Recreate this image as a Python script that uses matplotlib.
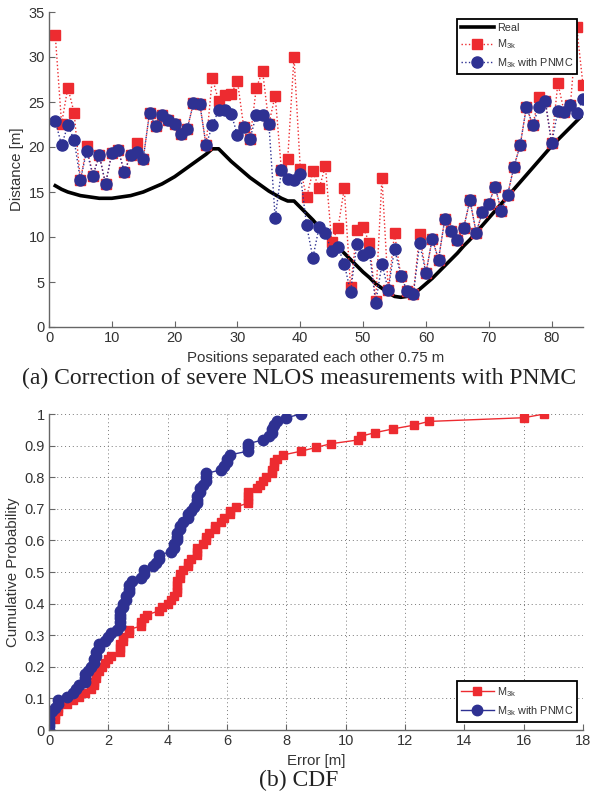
import numpy as np
import matplotlib
matplotlib.use("Agg")
import matplotlib.pyplot as plt

plt.rcParams['font.family'] = ['Liberation Sans', 'DejaVu Sans']
plt.rcParams['mathtext.fontset'] = 'custom'
plt.rcParams['mathtext.rm'] = 'Liberation Sans'
plt.rcParams['mathtext.it'] = 'Liberation Sans'

positions = np.arange(1, 86)

real = [15.7, 15.3, 15.0, 14.8, 14.6, 14.5, 14.4, 14.3, 14.3, 14.3,
        14.4, 14.5, 14.6, 14.8, 15.0, 15.3, 15.6, 15.9, 16.3, 16.7,
        17.2, 17.7, 18.2, 18.7, 19.2, 19.8, 19.8, 19.1, 18.4, 17.8,
        17.2, 16.6, 16.1, 15.6, 15.1, 14.7, 14.3, 14.0, 14.0, 13.3,
        12.6, 11.9, 11.1, 10.3, 9.6, 8.9, 8.2, 7.5, 6.8, 6.1,
        5.5, 4.8, 4.3, 3.8, 3.4, 3.3, 3.4, 3.7, 4.2, 4.8,
        5.4, 6.1, 6.8, 7.5, 8.2, 9.0, 9.7, 10.5, 11.3, 12.1,
        12.9, 13.7, 14.5, 15.3, 16.1, 16.9, 17.7, 18.5, 19.3, 20.1,
        20.8, 21.5, 22.2, 22.9, 23.6]

m3k_pnmc = [22.9, 20.2, 22.4, 20.8, 16.3, 19.6, 16.8, 19.1, 15.9, 19.3,
            19.7, 17.2, 19.1, 19.5, 18.7, 23.8, 22.3, 23.6, 23.0, 22.6,
            21.4, 22.0, 24.9, 24.8, 20.2, 22.4, 24.1, 24.1, 23.7, 21.3,
            22.2, 20.9, 23.6, 23.6, 22.6, 12.1, 17.4, 16.4, 16.3, 17.0,
            11.3, 7.7, 11.1, 10.4, 8.4, 8.9, 7.0, 3.9, 9.2, 8.0,
            8.3, 2.7, 7.0, 4.1, 8.7, 5.7, 4.0, 3.7, 9.3, 6.0,
            9.8, 7.5, 12.0, 10.7, 9.7, 11.0, 14.1, 10.5, 12.8, 13.7,
            15.6, 12.9, 14.7, 17.8, 20.2, 24.5, 22.4, 24.5, 25.1, 20.4,
            24.0, 23.9, 24.7, 23.8, 25.3]

m3k = [32.4, 22.6, 26.6, 23.8, 16.3, 20.1, 16.8, 19.1, 15.9, 19.3,
       19.7, 17.2, 19.1, 20.4, 18.7, 23.8, 22.3, 23.6, 23.0, 22.6,
       21.4, 22.0, 24.9, 24.8, 20.2, 27.7, 25.1, 25.8, 25.9, 27.3,
       22.2, 20.9, 26.6, 28.4, 22.6, 25.7, 17.4, 18.7, 30.0, 17.6,
       14.4, 17.3, 15.4, 17.9, 9.4, 11.0, 15.4, 4.4, 10.8, 11.1,
       9.3, 2.9, 16.6, 4.1, 10.4, 5.7, 4.0, 3.7, 10.3, 6.0,
       9.8, 7.5, 12.0, 10.7, 9.7, 11.0, 14.1, 10.5, 12.8, 13.7,
       15.6, 12.9, 14.7, 17.8, 20.2, 24.5, 22.4, 25.6, 25.1, 20.4,
       27.1, 23.9, 24.7, 33.3, 26.9]

RED = '#ED2B30'
BLUE = '#2E3192'
TICKC = '#333333'
SPC = '#666666'

fig = plt.figure(figsize=(5.98, 7.94), dpi=100)

def style(ax):
    for s in ['top', 'right']:
        ax.spines[s].set_visible(False)
    for s in ['left', 'bottom']:
        ax.spines[s].set_color(SPC)
        ax.spines[s].set_linewidth(1.0)
    ax.tick_params(direction='in', length=4, width=0.8, colors=SPC,
                   labelcolor=TICKC, labelsize=10.5, pad=3)

# ---------- top ----------
ax1 = fig.add_axes([49/598, 1-327/794, (583-49)/598, (327-12)/794])
ax1.plot(positions, real, color='black', lw=2.6, label='Real')
ax1.plot(positions, m3k, ls=':', color=RED, lw=1.0, marker='s', ms=6.5,
         mfc=RED, mec=RED, label=r'$\mathregular{M_{3k}}$')
ax1.plot(positions, m3k_pnmc, ls=':', color=BLUE, lw=1.0, marker='o', ms=8,
         mfc=BLUE, mec=BLUE, label=r'$\mathregular{M_{3k}}$ with PNMC')
ax1.set_xlim(0, 85)
ax1.set_ylim(0, 35)
ax1.set_xticks(np.arange(0, 81, 10))
ax1.set_yticks(np.arange(0, 36, 5))
style(ax1)
ax1.set_ylabel('Distance [m]', fontsize=10.8, color=TICKC, labelpad=3)
ax1.set_xlabel('Positions separated each other 0.75 m', fontsize=10.8, color=TICKC, labelpad=4)
leg1 = ax1.legend(loc='upper right', bbox_to_anchor=(0.993, 0.985), fontsize=7.8,
                  frameon=True, fancybox=False, edgecolor='black', framealpha=1,
                  handlelength=3.0, borderpad=0.35, labelspacing=0.45, handletextpad=0.3,
                  borderaxespad=0.2)
leg1.get_frame().set_linewidth(1.3)
for t in leg1.get_texts():
    t.set_color(TICKC)

fig.text(0.5, 1-378/794, '(a) Correction of severe NLOS measurements with PNMC',
         ha='center', va='center', fontsize=17, family='Liberation Serif', color='#222222')

# ---------- bottom ----------
err_m3k = np.sort(np.abs(np.array(m3k) - np.array(real)))
err_pnmc = np.sort(np.abs(np.array(m3k_pnmc) - np.array(real)))
n = len(positions)
cdf = np.arange(1, n + 1) / n

ax2 = fig.add_axes([49/598, 1-730/794, (583-49)/598, (730-414)/794])
ax2.plot(np.r_[err_m3k[0], err_m3k], np.r_[0, cdf], '-s', color=RED, lw=1.0, ms=6,
         mfc=RED, mec=RED, label=r'$\mathregular{M_{3k}}$')
ax2.plot(np.r_[err_pnmc[0], err_pnmc], np.r_[0, cdf], '-o', color=BLUE, lw=1.0, ms=7.5,
         mfc=BLUE, mec=BLUE, label=r'$\mathregular{M_{3k}}$ with PNMC')
ax2.set_xlim(0, 18)
ax2.set_ylim(0, 1)
ax2.set_xticks(np.arange(0, 19, 2))
ax2.set_yticks(np.arange(0, 1.01, 0.1))
ax2.set_yticklabels(['0'] + ['%.1f' % v for v in np.arange(0.1, 0.95, 0.1)] + ['1'])
ax2.grid(True, ls=(0, (1, 3)), color='#777777', lw=0.7)
style(ax2)
ax2.set_ylabel('Cumulative Probability', fontsize=10.8, color=TICKC, labelpad=3)
ax2.set_xlabel('Error [m]', fontsize=10.8, color=TICKC, labelpad=4)
leg2 = ax2.legend(loc='lower right', bbox_to_anchor=(0.993, 0.02), fontsize=7.8,
                  frameon=True, fancybox=False, edgecolor='black', framealpha=1,
                  handlelength=3.0, borderpad=0.35, labelspacing=0.45, handletextpad=0.3,
                  borderaxespad=0.2)
leg2.get_frame().set_linewidth(1.3)
for t in leg2.get_texts():
    t.set_color(TICKC)

fig.text(0.5, 1-780/794, '(b) CDF', ha='center', va='center', fontsize=17,
         family='Liberation Serif', color='#222222')

fig.savefig('out.png', dpi=100)
